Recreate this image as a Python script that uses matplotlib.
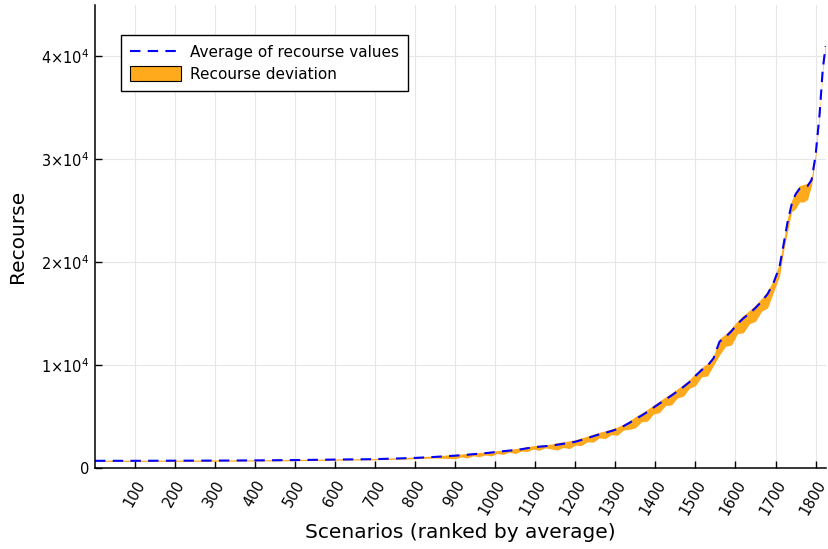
import matplotlib
matplotlib.use("Agg")
import matplotlib.pyplot as plt
import numpy as np
from matplotlib.patches import Patch
from matplotlib.lines import Line2D

# scenario index (ranked by average) at which the curve was read
scenario = [1, 100, 200, 300, 400, 500, 600, 700, 800, 850,
            900, 915, 930, 945, 960, 975, 990, 1005, 1020, 1035,
            1050, 1065, 1080, 1095, 1110, 1125, 1140, 1155, 1170, 1185,
            1200, 1215, 1230, 1245, 1260, 1275, 1290, 1305, 1320, 1335,
            1350, 1365, 1380, 1395, 1410, 1425, 1440, 1455, 1470, 1485,
            1500, 1515, 1530, 1545, 1560, 1575, 1590, 1605, 1620, 1635,
            1650, 1665, 1680, 1695, 1710, 1720, 1730, 1740, 1750, 1760,
            1770, 1780, 1790, 1800, 1810, 1818, 1825]

# average recourse value
avg_recourse = [700, 700, 710, 720, 740, 770, 820, 860, 980, 1080,
                1200, 1240, 1290, 1340, 1390, 1440, 1500, 1570, 1630, 1690,
                1740, 1820, 1920, 2010, 2070, 2120, 2180, 2260, 2350, 2440,
                2550, 2720, 2900, 3090, 3270, 3420, 3590, 3780, 4060, 4380,
                4750, 5080, 5450, 5860, 6260, 6650, 7040, 7450, 7880, 8350,
                8950, 9500, 9930, 10650, 12270, 12720, 13300, 14000, 14560, 15020,
                15560, 16180, 16900, 18000, 19560, 21700, 23900, 25600, 26600, 27150,
                27250, 27400, 28000, 30400, 34400, 38800, 41000]

# deviation below / above the average
dev_below = [60, 60, 60, 60, 60, 60, 60, 60, 80, 100,
             300, 160, 320, 150, 300, 170, 330, 160, 310, 150,
             340, 180, 320, 170, 350, 160, 330, 520, 350, 560,
             330, 540, 360, 580, 340, 560, 350, 600, 380, 620,
             850, 600, 900, 620, 880, 580, 920, 640, 900, 600,
             950, 650, 980, 700, 1300, 900, 1350, 950, 1400, 1000,
             1300, 950, 1350, 900, 900, 600, 900, 700, 1400, 1300,
             1400, 1300, 500, 300, 300, 200, 200]
dev_above = [60, 60, 60, 60, 60, 60, 60, 60, 80, 100,
             120, 120, 120, 120, 120, 120, 120, 120, 120, 120,
             150, 150, 150, 150, 150, 150, 150, 200, 200, 200,
             200, 200, 200, 200, 200, 200, 200, 200, 200, 200,
             250, 250, 250, 250, 250, 250, 250, 250, 250, 250,
             250, 250, 250, 250, 300, 300, 300, 300, 300, 300,
             300, 300, 300, 300, 400, 400, 400, 400, 300, 300,
             300, 300, 300, 300, 300, 300, 300]

x_ticks = list(range(100, 1801, 100))
y_ticks = [0, 10000, 20000, 30000, 40000]
y_ticklabels = ["0", r"1$\times$10$^{4}$", r"2$\times$10$^{4}$",
                r"3$\times$10$^{4}$", r"4$\times$10$^{4}$"]

band_color = "#FFA91C"
line_color = "#0000FF"

x = np.array(scenario)
avg = np.array(avg_recourse)
lo = avg - np.array(dev_below)
hi = avg + np.array(dev_above)

fig = plt.figure(figsize=(8.29, 5.49), dpi=100)
ax = fig.add_axes([95 / 829, 81 / 549, 731 / 829, 463 / 549])

ax.fill_between(x, lo, hi, color=band_color, linewidth=0)
ax.plot(x, avg, color=line_color, linestyle=(0, (5, 3.5)), linewidth=1.5)

ax.set_xlim(1, 1826)
ax.set_ylim(0, 45000)
ax.set_xticks(x_ticks)
ax.set_xticklabels([str(t) for t in x_ticks], rotation=60, ha="right",
                   va="top", rotation_mode="anchor", fontsize=10.5)
ax.set_yticks(y_ticks)
ax.set_yticklabels(y_ticklabels, fontsize=10.5)

ax.grid(True, color="#e6e6e6", linewidth=0.8)
ax.set_axisbelow(True)
for s in ["top", "right"]:
    ax.spines[s].set_visible(False)
for s in ["left", "bottom"]:
    ax.spines[s].set_linewidth(1.1)
ax.tick_params(direction="in", length=5, width=1, pad=4)
ax.tick_params(axis="x", pad=7)

ax.set_xlabel("Scenarios (ranked by average)", fontsize=14.5)
ax.set_ylabel("Recourse", fontsize=14.5, labelpad=10)

handles = [
    Line2D([0], [0], color=line_color, linestyle=(0, (5, 3.5)), linewidth=1.5),
    Patch(facecolor=band_color, edgecolor="black", linewidth=0.8),
]
leg = ax.legend(handles, ["Average of recourse values", "Recourse deviation"],
                loc="upper left", bbox_to_anchor=(0.0356, 0.935),
                fontsize=11, frameon=True, fancybox=False,
                edgecolor="black", framealpha=1, handlelength=3.3,
                handleheight=1.2, borderpad=0.6, labelspacing=0.35,
                handletextpad=0.6, borderaxespad=0)
leg.get_frame().set_linewidth(1.0)

fig.savefig("out.png", dpi=100)
